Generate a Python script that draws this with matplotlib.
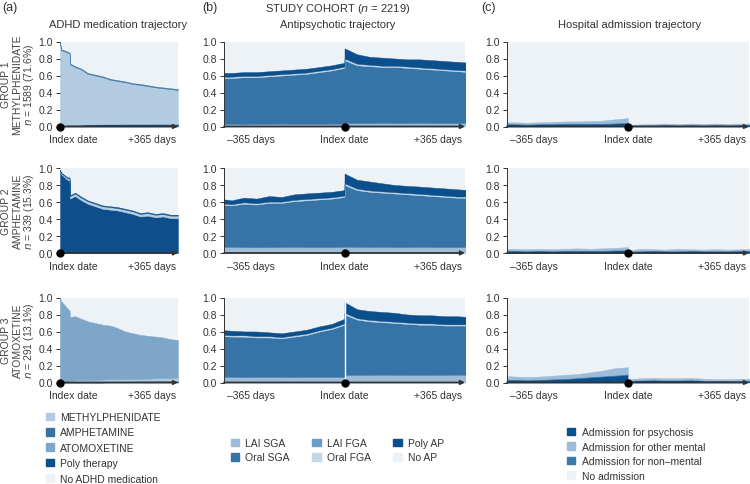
import matplotlib
matplotlib.use("Agg")
import matplotlib.pyplot as plt
from matplotlib.patches import Patch
from matplotlib.transforms import ScaledTranslation

plt.rcParams["font.family"] = ["Liberation Sans", "DejaVu Sans"]
plt.rcParams["text.color"] = "#333333"

# ---------------- data (share of patients) ----------------
# (a) ADHD medication, days 0 .. +470
x_a = [0, 4, 30, 38, 40, 60, 85, 110, 140, 170, 200, 230, 260, 290, 320, 350, 380, 410, 440, 470]

a1_poly = [0.005, 0.012, 0.018, 0.02, 0.02, 0.02, 0.022, 0.024, 0.025, 0.027, 0.028, 0.028, 0.03, 0.03, 0.03, 0.03, 0.03, 0.031, 0.03, 0.03]
a1_meth = [0.985, 0.888, 0.852, 0.84, 0.71, 0.68, 0.648, 0.596, 0.575, 0.553, 0.522, 0.507, 0.49, 0.47, 0.46, 0.445, 0.43, 0.419, 0.41, 0.40]
a1_amph = [0.01, 0.01, 0.01, 0.01, 0.01, 0.01, 0.01, 0.01, 0.01, 0.01, 0.01, 0.01, 0.01, 0.01, 0.01, 0.01, 0.01, 0.01, 0.01, 0.01]

a2_amph = [0.98, 0.93, 0.86, 0.86, 0.64, 0.67, 0.62, 0.58, 0.55, 0.52, 0.51, 0.50, 0.48, 0.46, 0.43, 0.44, 0.42, 0.43, 0.41, 0.41]
a2_meth = [0.0, 0.01, 0.02, 0.02, 0.03, 0.03, 0.03, 0.03, 0.03, 0.03, 0.03, 0.028, 0.03, 0.03, 0.03, 0.03, 0.03, 0.028, 0.03, 0.03]
a2_poly = [0.0, 0.008, 0.01, 0.01, 0.01, 0.01, 0.012, 0.01, 0.01, 0.01, 0.01, 0.012, 0.01, 0.01, 0.01, 0.01, 0.01, 0.012, 0.01, 0.01]

a3_poly = [0, 0, 0, 0, 0, 0, 0, 0, 0, 0, 0.008, 0.012, 0.015, 0.015, 0.018, 0.018, 0.02, 0.02, 0.02, 0.02]
a3_meth = [0.0, 0.01, 0.015, 0.02, 0.02, 0.025, 0.03, 0.03, 0.03, 0.035, 0.03, 0.025, 0.025, 0.025, 0.025, 0.025, 0.03, 0.03, 0.03, 0.035]
a3_atom = [1.0, 0.95, 0.855, 0.83, 0.75, 0.755, 0.72, 0.69, 0.67, 0.645, 0.632, 0.603, 0.56, 0.54, 0.517, 0.507, 0.49, 0.48, 0.46, 0.445]

# (b) and (c): days -490 .. +490, index date repeated for the jump
x_bc = [-490, -441, -392, -343, -294, -245, -196, -147, -98, -49, 0,
        0, 49, 98, 147, 196, 245, 294, 343, 392, 441, 490]

b1_lai_sga = [0.03, 0.03, 0.028, 0.03, 0.03, 0.032, 0.03, 0.03, 0.03, 0.032, 0.03,
              0.04, 0.04, 0.04, 0.042, 0.04, 0.04, 0.042, 0.04, 0.04, 0.04, 0.04]
b1_oral_sga = [0.54, 0.54, 0.552, 0.55, 0.56, 0.568, 0.58, 0.59, 0.61, 0.628, 0.66,
               0.74, 0.68, 0.67, 0.658, 0.66, 0.65, 0.638, 0.63, 0.62, 0.61, 0.60]
b1_oral_fga = [0.015, 0.016, 0.015, 0.014, 0.015, 0.016, 0.015, 0.015, 0.016, 0.015, 0.015,
               0.02, 0.018, 0.016, 0.015, 0.015, 0.016, 0.015, 0.015, 0.014, 0.015, 0.015]
b1_poly = [0.045, 0.044, 0.045, 0.046, 0.045, 0.044, 0.045, 0.045, 0.044, 0.045, 0.045,
           0.12, 0.112, 0.094, 0.095, 0.085, 0.084, 0.095, 0.095, 0.096, 0.095, 0.095]

b2_lai_sga = [0.07, 0.072, 0.07, 0.068, 0.07, 0.07, 0.072, 0.07, 0.07, 0.07, 0.072,
              0.075, 0.072, 0.07, 0.072, 0.07, 0.07, 0.072, 0.07, 0.07, 0.07, 0.07]
b2_oral_sga = [0.50, 0.488, 0.51, 0.502, 0.52, 0.52, 0.538, 0.55, 0.56, 0.57, 0.588,
               0.725, 0.668, 0.65, 0.638, 0.63, 0.62, 0.608, 0.60, 0.59, 0.58, 0.58]
b2_oral_fga = [0.015, 0.014, 0.016, 0.015, 0.015, 0.014, 0.015, 0.016, 0.015, 0.015, 0.015,
               0.02, 0.017, 0.016, 0.015, 0.015, 0.015, 0.016, 0.015, 0.015, 0.014, 0.015]
b2_poly = [0.055, 0.045, 0.055, 0.055, 0.065, 0.055, 0.065, 0.065, 0.065, 0.065, 0.065,
           0.115, 0.105, 0.105, 0.095, 0.085, 0.085, 0.085, 0.085, 0.085, 0.085, 0.075]

b3_lai_sga = [0.065, 0.066, 0.064, 0.065, 0.066, 0.065, 0.064, 0.066, 0.065, 0.066, 0.065,
              0.09, 0.088, 0.09, 0.092, 0.09, 0.09, 0.088, 0.09, 0.09, 0.092, 0.09]
b3_oral_sga = [0.485, 0.474, 0.476, 0.465, 0.464, 0.455, 0.476, 0.494, 0.535, 0.564, 0.615,
               0.71, 0.652, 0.63, 0.618, 0.61, 0.60, 0.592, 0.59, 0.58, 0.578, 0.58]
b3_oral_fga = [0.015, 0.014, 0.016, 0.015, 0.015, 0.014, 0.015, 0.016, 0.015, 0.015, 0.015,
               0.02, 0.017, 0.016, 0.015, 0.015, 0.015, 0.016, 0.015, 0.015, 0.014, 0.015]
b3_poly = [0.055, 0.055, 0.045, 0.055, 0.045, 0.045, 0.045, 0.045, 0.045, 0.045, 0.055,
           0.125, 0.105, 0.105, 0.105, 0.105, 0.095, 0.095, 0.095, 0.095, 0.095, 0.085]

c1_psych = [0.025, 0.025, 0.02, 0.025, 0.025, 0.03, 0.03, 0.03, 0.03, 0.035, 0.04,
            0.01, 0.015, 0.015, 0.02, 0.015, 0.02, 0.015, 0.02, 0.015, 0.02, 0.02]
c1_nonmental = [0.01, 0.01, 0.01, 0.01, 0.01, 0.01, 0.01, 0.01, 0.01, 0.01, 0.01,
                0.005, 0.005, 0.005, 0.005, 0.005, 0.005, 0.005, 0.005, 0.005, 0.005, 0.005]
c1_other = [0.015, 0.015, 0.015, 0.015, 0.02, 0.02, 0.02, 0.025, 0.03, 0.04, 0.05,
            0.005, 0.005, 0.01, 0.01, 0.01, 0.01, 0.01, 0.01, 0.01, 0.01, 0.01]

c2_psych = [0.025, 0.025, 0.02, 0.025, 0.02, 0.025, 0.025, 0.025, 0.025, 0.03, 0.03,
            0.02, 0.02, 0.025, 0.02, 0.02, 0.025, 0.02, 0.02, 0.02, 0.025, 0.02]
c2_nonmental = [0.008, 0.008, 0.008, 0.008, 0.008, 0.008, 0.008, 0.008, 0.008, 0.008, 0.008,
                0.005, 0.008, 0.008, 0.008, 0.008, 0.008, 0.008, 0.008, 0.008, 0.008, 0.008]
c2_other = [0.017, 0.017, 0.017, 0.017, 0.017, 0.017, 0.022, 0.017, 0.022, 0.022, 0.032,
            0.005, 0.022, 0.012, 0.012, 0.022, 0.012, 0.012, 0.017, 0.012, 0.012, 0.022]

c3_psych = [0.03, 0.03, 0.025, 0.03, 0.035, 0.04, 0.05, 0.06, 0.07, 0.08, 0.09,
            0.02, 0.025, 0.03, 0.025, 0.025, 0.03, 0.02, 0.02, 0.02, 0.02, 0.02]
c3_nonmental = [0.01, 0.01, 0.01, 0.01, 0.01, 0.01, 0.01, 0.01, 0.01, 0.01, 0.01,
                0.005, 0.005, 0.005, 0.005, 0.005, 0.005, 0.005, 0.005, 0.005, 0.005, 0.005]
c3_other = [0.04, 0.03, 0.03, 0.03, 0.035, 0.04, 0.04, 0.05, 0.06, 0.08, 0.08,
            0.015, 0.02, 0.02, 0.02, 0.02, 0.02, 0.02, 0.015, 0.015, 0.02, 0.015]

group_labels = [
    ("GROUP 1", "METHYLPHENIDATE", "1589 (71.6%)"),
    ("GROUP 2", "AMPHETAMINE", "339 (15.3%)"),
    ("GROUP 3", "ATOMOXETINE", "291 (13.1%)"),
]

# ---------------- colours ----------------
BG = "#edf2f7"
C_METH = "#b3cbe0"
C_AMPH = "#3a72a4"
C_AMPH_DARK = "#0e4e8a"
C_ATOM = "#7ea6c9"
C_POLY = "#0b4f8c"
C_LAI_SGA = "#9dbcd8"
C_LAI_FGA = "#6b9cc6"
C_ORAL_SGA = "#3674a7"
C_ORAL_FGA = "#c3d7e8"
C_PSY = "#0a4f8e"
C_OTHER = "#9dbcd9"
C_NONMENTAL = "#3b77a9"

panels_a = [
    ([a1_poly, a1_meth, a1_amph], [C_POLY, C_METH, C_AMPH]),
    ([a2_amph, a2_meth, a2_poly], [C_AMPH_DARK, C_METH, C_POLY]),
    ([a3_poly, a3_meth, a3_atom], [C_POLY, C_METH, C_ATOM]),
]
panels_b = [
    [b1_lai_sga, b1_oral_sga, b1_oral_fga, b1_poly],
    [b2_lai_sga, b2_oral_sga, b2_oral_fga, b2_poly],
    [b3_lai_sga, b3_oral_sga, b3_oral_fga, b3_poly],
]
colors_b = [C_LAI_SGA, C_ORAL_SGA, C_ORAL_FGA, C_POLY]
panels_c = [
    [c1_psych, c1_nonmental, c1_other],
    [c2_psych, c2_nonmental, c2_other],
    [c3_psych, c3_nonmental, c3_other],
]
colors_c = [C_PSY, C_NONMENTAL, C_OTHER]

# ---------------- layout ----------------
W, H = 750, 485
fig = plt.figure(figsize=(W / 100, H / 100), dpi=100)

col_x = [(60, 118), (224, 241), (507, 242)]
row_y = [(42.5, 127.5), (169, 254), (298.5, 383.5)]


def make_ax(col, row):
    x0, w = col_x[col]
    top, bot = row_y[row]
    return fig.add_axes([x0 / W, 1 - bot / H, w / W, (bot - top) / H])


def style(ax, xlim, xticks, xlabels, dot_x, left_spine=True):
    ax.set_facecolor(BG)
    ax.set_xlim(*xlim)
    ax.set_ylim(0, 1)
    ax.set_yticks([0, 0.2, 0.4, 0.6, 0.8, 1.0])
    ax.set_yticklabels(["0.0", "0.2", "0.4", "0.6", "0.8", "1.0"])
    ax.set_xticks(xticks)
    ax.set_xticklabels(xlabels)
    ax.tick_params(axis="x", length=0, pad=5.5, labelsize=7.5, labelcolor="#333333")
    ax.tick_params(axis="y", length=3, width=0.7, pad=2, labelsize=7.5,
                   labelcolor="#333333", color="#333333")
    for s in ["top", "right", "bottom"]:
        ax.spines[s].set_visible(False)
    ax.spines["left"].set_visible(left_spine)
    ax.spines["left"].set_color("#333333")
    ax.spines["left"].set_linewidth(0.7)
    ax.annotate("", xy=(1.0, 0), xytext=(0, 0), xycoords="axes fraction",
                arrowprops=dict(arrowstyle="-|>", color="#333333", lw=1.3,
                                mutation_scale=6, shrinkA=0, shrinkB=0))
    ax.plot([dot_x], [0], "o", color="black", ms=5, clip_on=False, zorder=6)


for r in range(3):
    # (a)
    ax = make_ax(0, r)
    layers, cols = panels_a[r]
    ax.stackplot(x_a, *layers, colors=cols, lw=0.3, edgecolor="face")
    style(ax, (0, 470), [0, 365], ["Index date", "+365 days"], 0, left_spine=False)
    lab = ax.get_xticklabels()[0]
    lab.set_transform(lab.get_transform() + ScaledTranslation(13 / 100, 0, fig.dpi_scale_trans))

    g, drug, n = group_labels[r]
    yc = 1 - (row_y[r][0] + row_y[r][1]) / 2 / H
    fig.text(6 / W, yc, g, rotation=90, ha="center", va="center", fontsize=7.5, color="#444444")
    fig.text(17.5 / W, yc, drug, rotation=90, ha="center", va="center", fontsize=7.5, color="#444444")
    fig.text(29 / W, yc, r"$\it{n}$ = " + n, rotation=90, ha="center", va="center",
             fontsize=7.5, color="#444444")

    # (b)
    ax = make_ax(1, r)
    ax.stackplot(x_bc, *panels_b[r], colors=colors_b, lw=0.3, edgecolor="face")
    if r == 2:
        ax.axvline(0, color="white", lw=1, zorder=3)
    style(ax, (-470, 470), [-365, 0, 365], ["\u2013365 days", "Index date", "+365 days"], 0)

    # (c)
    ax = make_ax(2, r)
    ax.stackplot(x_bc, *panels_c[r], colors=colors_c, lw=0.3, edgecolor="face")
    style(ax, (-470, 470), [-365, 0, 365], ["\u2013365 days", "Index date", "+365 days"], 0)

# ---------------- titles ----------------
fig.text(2 / W, 1 - 8 / H, "(a)", fontsize=9, va="center")
fig.text(202 / W, 1 - 8 / H, "(b)", fontsize=9, va="center")
fig.text(481 / W, 1 - 8 / H, "(c)", fontsize=9, va="center")
fig.text(118 / W, 1 - 25 / H, "ADHD medication trajectory", fontsize=8, ha="center", va="center")
fig.text(338 / W, 1 - 8.5 / H, r"STUDY COHORT ($\it{n}$ = 2219)", fontsize=8, ha="center", va="center")
fig.text(338 / W, 1 - 25 / H, "Antipsychotic trajectory", fontsize=8, ha="center", va="center")
fig.text(630 / W, 1 - 25 / H, "Hospital admission trajectory", fontsize=8, ha="center", va="center")

# ---------------- legends ----------------
leg_kw = dict(frameon=False, fontsize=7.5, handlelength=0.8, handleheight=0.75,
              borderpad=0, borderaxespad=0, labelcolor="#333333")

h_a = [Patch(color=c) for c in [C_METH, C_AMPH, C_ATOM, C_POLY, BG]]
fig.legend(h_a, ["METHYLPHENIDATE", "AMPHETAMINE", "ATOMOXETINE", "Poly therapy", "No ADHD medication"],
           loc="upper left", bbox_to_anchor=(46 / W, 1 - 413 / H), handletextpad=0.55,
           labelspacing=0.52, **leg_kw)

h_b = [Patch(color=c) for c in [C_LAI_SGA, C_ORAL_SGA, C_LAI_FGA, C_ORAL_FGA, C_POLY, BG]]
fig.legend(h_b, ["LAI SGA", "Oral SGA", "LAI FGA", "Oral FGA", "Poly AP", "No AP"],
           loc="upper left", bbox_to_anchor=(231 / W, 1 - 439 / H), ncol=3, handletextpad=0.55,
           labelspacing=0.42, columnspacing=2.2, **leg_kw)

h_c = [Patch(color=c) for c in [C_PSY, C_OTHER, C_NONMENTAL, BG]]
fig.legend(h_c, ["Admission for psychosis", "Admission for other mental",
                 "Admission for non\u2013mental", "No admission"],
           loc="upper left", bbox_to_anchor=(567 / W, 1 - 428 / H), handletextpad=0.6,
           labelspacing=0.44, **leg_kw)

fig.savefig("out.png", dpi=100)
